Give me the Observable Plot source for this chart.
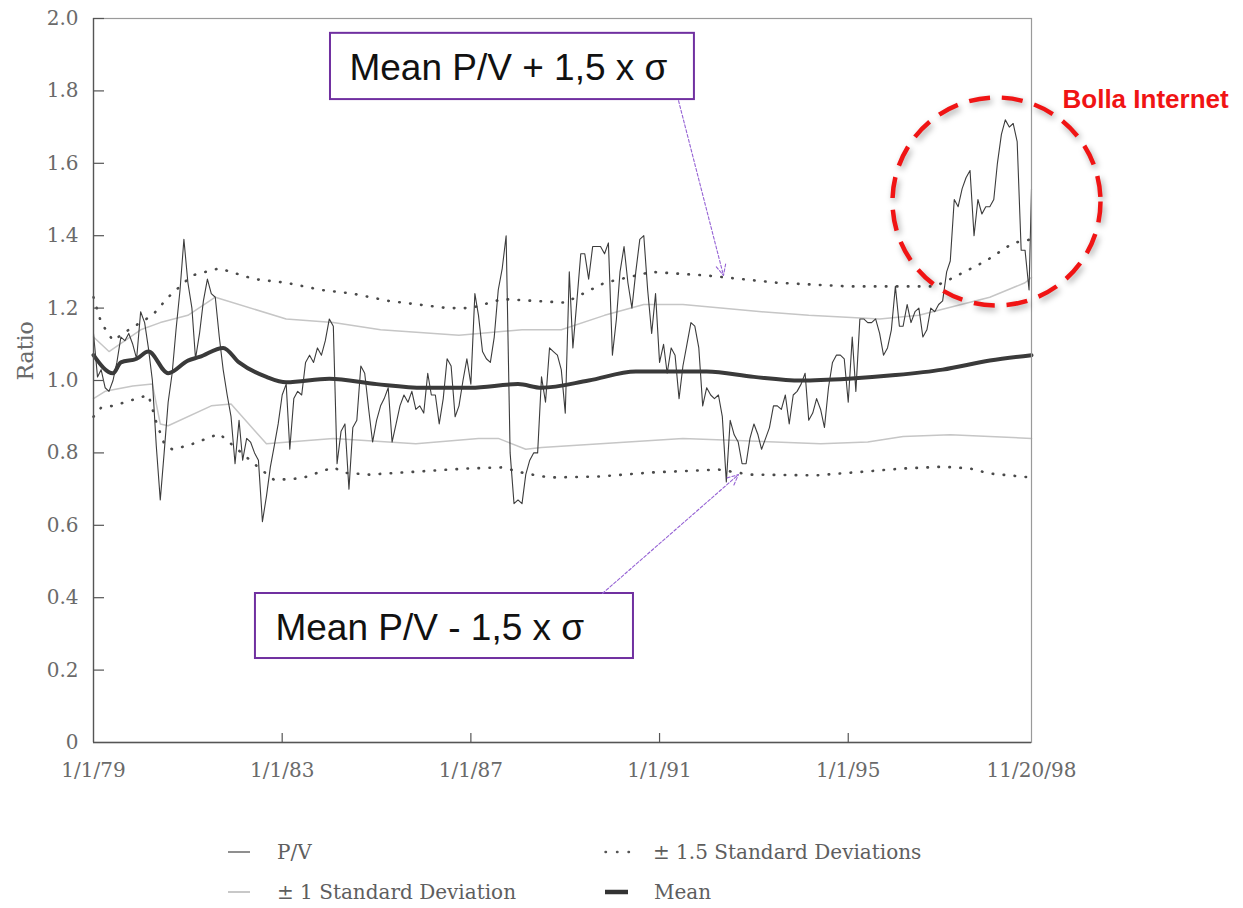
<!DOCTYPE html>
<html>
<head>
<meta charset="utf-8">
<script src="https://cdn.jsdelivr.net/npm/d3@7"></script>
<script src="https://cdn.jsdelivr.net/npm/@observablehq/plot@0.6"></script>
<style>
  body { margin: 0; background: #fff; }
  #chart { position: relative; width: 1243px; height: 908px; overflow: hidden; }
  #chart > svg { position: absolute; left: 0; top: 0; }
  .legend-item { position: absolute; display: flex; align-items: center; height: 26px; line-height: 26px;
    font-family: "DejaVu Serif", serif; font-size: 20px; color: #5e5e5e; white-space: nowrap; }
  .legend-item svg { display: block; margin-right: 21px; flex: none; }
</style>
</head>
<body>
<div id="chart"></div>
<script>
// Monthly P/V ratio, Jan 1979 onwards (one row per year), plus the last reading on 11/20/98
const pvStart = "1979-01-01";
const pv = [
  1.13, 1.01, 1.03, 0.98, 0.97, 1.00, 1.05, 1.12, 1.11, 1.13, 1.10, 1.06,
  1.19, 1.16, 1.09, 1.00, 0.82, 0.67, 0.80, 0.94, 1.02, 1.14, 1.25, 1.39,
  1.27, 1.20, 1.06, 1.13, 1.22, 1.28, 1.24, 1.23, 1.12, 1.03, 0.96, 0.90,
  0.77, 0.89, 0.78, 0.84, 0.83, 0.80, 0.78, 0.61, 0.68, 0.76, 0.82, 0.88,
  0.96, 0.99, 0.81, 0.95, 0.97, 0.96, 1.05, 1.07, 1.05, 1.09, 1.07, 1.11,
  1.17, 1.15, 0.77, 0.86, 0.88, 0.70, 0.87, 0.89, 1.04, 1.02, 0.92, 0.83,
  0.89, 0.93, 0.95, 0.98, 0.83, 0.88, 0.93, 0.96, 0.94, 0.97, 0.92, 0.93,
  0.91, 1.02, 0.96, 0.96, 0.88, 0.95, 1.06, 1.04, 0.90, 0.93, 1.00, 1.06,
  0.99, 1.24, 1.18, 1.08, 1.06, 1.05, 1.12, 1.25, 1.31, 1.40, 0.80, 0.66,
  0.67, 0.66, 0.74, 0.78, 0.80, 0.80, 1.01, 0.94, 1.09, 1.08, 1.07, 1.03,
  0.91, 1.30, 1.09, 1.22, 1.35, 1.35, 1.28, 1.37, 1.37, 1.37, 1.35, 1.38,
  1.07, 1.17, 1.30, 1.37, 1.27, 1.20, 1.30, 1.39, 1.40, 1.25, 1.13, 1.24,
  1.05, 1.10, 1.02, 1.09, 1.07, 0.95, 1.04, 1.10, 1.16, 1.15, 1.09, 0.93,
  0.98, 0.96, 0.95, 0.96, 0.90, 0.72, 0.89, 0.85, 0.83, 0.77, 0.77, 0.84,
  0.88, 0.85, 0.81, 0.84, 0.87, 0.93, 0.93, 0.92, 0.96, 0.88, 0.96, 0.97,
  0.99, 1.02, 0.89, 0.91, 0.95, 0.92, 0.87, 0.98, 1.05, 1.07, 1.07, 1.06,
  0.94, 1.12, 0.97, 1.17, 1.17, 1.16, 1.16, 1.17, 1.13, 1.07, 1.09, 1.14,
  1.26, 1.15, 1.15, 1.21, 1.16, 1.19, 1.20, 1.12, 1.14, 1.20, 1.19, 1.21,
  1.22, 1.30, 1.33, 1.50, 1.48, 1.53, 1.56, 1.58, 1.40, 1.50, 1.46, 1.48,
  1.48, 1.50, 1.60, 1.68, 1.72, 1.70, 1.71, 1.66, 1.36, 1.36, 1.25
];
const pvLast = ["1998-11-20", 1.53];

// Running mean and standard-deviation bands
const meanLine = [
  ["1979-01", 1.07], ["1979-06", 1.02], ["1979-08", 1.05], ["1979-12", 1.06],
  ["1980-03", 1.08], ["1980-08", 1.02], ["1981-01", 1.055], ["1981-04", 1.065],
  ["1981-10", 1.09], ["1982-02", 1.05], ["1982-09", 1.01], ["1983-02", 0.995],
  ["1984-01", 1.005], ["1985-01", 0.99], ["1986-01", 0.98], ["1987-01", 0.98],
  ["1988-01", 0.99], ["1988-07", 0.98], ["1989-07", 1.00], ["1990-07", 1.025],
  ["1992-01", 1.025], ["1993-01", 1.01], ["1994-01", 1.00], ["1995-01", 1.005],
  ["1996-01", 1.015], ["1997-01", 1.03], ["1998-01", 1.055], ["1998-11-20", 1.07]
];
const upper15 = [
  ["1979-01", 1.23], ["1979-03", 1.16], ["1979-06", 1.11], ["1979-10", 1.14],
  ["1980-04", 1.18], ["1980-08", 1.23], ["1981-02", 1.29], ["1981-09", 1.31],
  ["1982-06", 1.28], ["1983-02", 1.27], ["1983-11", 1.25], ["1984-07", 1.24],
  ["1985-04", 1.22], ["1986-07", 1.20], ["1987-01", 1.20], ["1987-09", 1.225],
  ["1989-01", 1.215], ["1989-11", 1.27], ["1990-11", 1.30], ["1992-01", 1.29],
  ["1993-07", 1.27], ["1995-01", 1.26], ["1996-11", 1.26], ["1997-03", 1.28],
  ["1997-12", 1.33], ["1998-07", 1.38], ["1998-11-20", 1.39]
];
const upper1 = [
  ["1979-01", 1.12], ["1979-05", 1.08], ["1980-01", 1.14], ["1980-06", 1.16],
  ["1981-01", 1.18], ["1981-08", 1.23], ["1983-02", 1.17], ["1984-02", 1.16],
  ["1985-02", 1.14], ["1986-10", 1.125], ["1988-02", 1.14], ["1988-12", 1.14],
  ["1989-11", 1.18], ["1990-09", 1.21], ["1991-07", 1.21], ["1993-03", 1.19],
  ["1994-03", 1.18], ["1995-09", 1.17], ["1996-07", 1.18], ["1998-01", 1.23],
  ["1998-10", 1.27], ["1998-11-20", 1.285]
];
const lower1 = [
  ["1979-01", 0.95], ["1979-04", 0.97], ["1979-11", 0.985], ["1980-04", 0.99],
  ["1980-06", 0.88], ["1980-08", 0.875], ["1981-07", 0.93], ["1981-12", 0.935],
  ["1982-09", 0.825], ["1984-02", 0.84], ["1985-11", 0.825], ["1987-03", 0.84],
  ["1987-08", 0.84], ["1988-03", 0.81], ["1988-07", 0.815], ["1991-07", 0.84],
  ["1994-06", 0.825], ["1995-06", 0.83], ["1996-03", 0.845], ["1997-03", 0.85],
  ["1998-11-20", 0.84]
];
const lower15 = [
  ["1979-01", 0.90], ["1979-03", 0.925], ["1979-06", 0.93], ["1979-09", 0.94],
  ["1979-12", 0.95], ["1980-03", 0.96], ["1980-05", 0.885], ["1980-07", 0.826],
  ["1980-09", 0.81], ["1981-01", 0.82], ["1981-09", 0.853], ["1982-07", 0.76],
  ["1982-11", 0.725], ["1983-06", 0.73], ["1984-02", 0.76], ["1984-05", 0.745],
  ["1984-11", 0.74], ["1986-12", 0.757], ["1987-09", 0.76], ["1988-03", 0.743],
  ["1988-09", 0.732], ["1989-10", 0.735], ["1990-11", 0.746], ["1992-04", 0.754],
  ["1992-12", 0.74], ["1994-05", 0.738], ["1995-06", 0.749], ["1996-03", 0.757],
  ["1997-01", 0.762], ["1997-08", 0.757], ["1998-01", 0.743], ["1998-11-20", 0.732]
];

// Axis ticks
const xTickDates = ["1979-01-01", "1983-01-01", "1987-01-01", "1991-01-01", "1995-01-01", "1998-11-20"];
const xTickLabels = ["1/1/79", "1/1/83", "1/1/87", "1/1/91", "1/1/95", "11/20/98"];
const yTicks = [0, 0.2, 0.4, 0.6, 0.8, 1.0, 1.2, 1.4, 1.6, 1.8, 2.0];

// Callouts
const calloutBoxes = [
  {x1: "1984-01-10", x2: "1991-09-28", y1: 1.776, y2: 1.959, tx: "1984-06-05", ty: 1.829, text: "Mean P/V + 1,5 x σ"},
  {x1: "1982-06-08", x2: "1990-06-13", y1: 0.232, y2: 0.4116, tx: "1982-11-10", ty: 0.282, text: "Mean P/V - 1,5 x σ"}
];
const calloutArrows = [
  {x1: "1991-05-28", y1: 1.773, x2: "1992-05-10", y2: 1.290},
  {x1: "1989-10-16", y1: 0.4116, x2: "1992-09-03", y2: 0.740}
];
const bubble = {x: "1998-02-22", y: 1.4945, label: "Bolla Internet"};

const parseDate = s => new Date(s.length === 7 ? s + "-01" : s);
const toRows = pairs => pairs.map(([d, v]) => ({date: parseDate(d), value: v}));

const pvRows = pv.map((v, i) => ({date: d3.utcMonth.offset(parseDate(pvStart), i), value: v}));
pvRows.push({date: parseDate(pvLast[0]), value: pvLast[1]});

const xTicks = xTickDates.map(parseDate);
const labelByTime = new Map(xTicks.map((d, i) => [+d, xTickLabels[i]]));
const boxes = calloutBoxes.map(b => ({...b, x1: parseDate(b.x1), x2: parseDate(b.x2), tx: parseDate(b.tx)}));
const arrows = calloutArrows.map(a => ({...a, x1: parseDate(a.x1), x2: parseDate(a.x2)}));

const frameW = 1243 - 93 - 212;
const frameH = 800 - 18 - 58;
const serif = "DejaVu Serif, serif";
const sans = "Liberation Sans, Arial, sans-serif";

const chart = Plot.plot({
  width: 1243,
  height: 800,
  marginLeft: 93,
  marginRight: 212,
  marginTop: 18,
  marginBottom: 58,
  style: {background: "white", fontFamily: serif, overflow: "visible"},
  x: {type: "utc", domain: [xTicks[0], xTicks[xTicks.length - 1]]},
  y: {domain: [0, 2]},
  marks: [
    // standard-deviation bands
    Plot.line(toRows(upper1), {x: "date", y: "value", stroke: "#c6c6c6", strokeWidth: 1.5}),
    Plot.line(toRows(lower1), {x: "date", y: "value", stroke: "#c6c6c6", strokeWidth: 1.5}),
    Plot.line(toRows(upper15), {x: "date", y: "value", stroke: "#4a4a4a", strokeWidth: 2.6,
      strokeDasharray: "0.5 10.5", strokeLinecap: "round"}),
    Plot.line(toRows(lower15), {x: "date", y: "value", stroke: "#4a4a4a", strokeWidth: 2.6,
      strokeDasharray: "0.5 10.5", strokeLinecap: "round"}),
    // mean and ratio
    Plot.line(toRows(meanLine), {x: "date", y: "value", stroke: "#3a3a3a", strokeWidth: 4, curve: "monotone-x"}),
    Plot.line(pvRows, {x: "date", y: "value", stroke: "#3c3c3c", strokeWidth: 1.1}),
    // frame and axes
    Plot.frame({stroke: "#9a9a9a", strokeWidth: 1.2}),
    Plot.ruleX([xTicks[0]], {stroke: "#555", strokeWidth: 1.3}),
    Plot.ruleY([0], {stroke: "#555", strokeWidth: 1.3}),
    Plot.tickY(yTicks.slice(1), {y: d => d, insetRight: frameW - 11, stroke: "#555", strokeWidth: 1.2}),
    Plot.tickX(xTicks.slice(1, -1), {x: d => d, insetTop: frameH - 9, stroke: "#555", strokeWidth: 1.2}),
    Plot.axisY(yTicks, {tickSize: 0, tickPadding: 15, fontSize: 20, fill: "#6a6a6a",
      tickFormat: d => d === 0 ? "0" : d.toFixed(1), label: null}),
    Plot.axisX(xTicks, {tickSize: 0, tickPadding: 20, fontSize: 20, fill: "#6a6a6a",
      tickFormat: d => labelByTime.get(+d), label: null, style: {letterSpacing: "2px"}}),
    Plot.text(["Ratio"], {frameAnchor: "left", dx: -68, rotate: -90, fontSize: 22, fill: "#6a6a6a"}),
    // callouts
    Plot.rect(boxes, {x1: "x1", x2: "x2", y1: "y1", y2: "y2", fill: "white", stroke: "#7030a0", strokeWidth: 2}),
    Plot.text(boxes, {x: "tx", y: "ty", text: "text", textAnchor: "start", lineAnchor: "bottom",
      fontFamily: sans, fontSize: 37, fill: "#111"}),
    Plot.arrow(arrows, {x1: "x1", y1: "y1", x2: "x2", y2: "y2", stroke: "#9562d4", strokeWidth: 1.1,
      strokeDasharray: "3 2", headLength: 16, headAngle: 50}),
    Plot.dot([bubble], {x: d => parseDate(d.x), y: "y", r: 104, fill: "none", stroke: "#f01414",
      strokeWidth: 4.5, strokeDasharray: "21 12", imageFilter: "drop-shadow(2px 3px 3px rgba(0,0,0,0.35))"}),
    Plot.text([bubble], {frameAnchor: "top-right", dx: 31, dy: 89, text: "label", textAnchor: "start",
      lineAnchor: "bottom", fontFamily: sans, fontWeight: "bold", fontSize: 26, fill: "#f01414"})
  ]
});

const root = document.getElementById("chart");
root.appendChild(chart);

// Legend below the plot
const legendItems = [
  {label: "P/V", left: 228, top: 839, swatch: '<line x1="0" y1="13" x2="22" y2="13" stroke="#444" stroke-width="1.2"/>'},
  {label: "± 1.5 Standard Deviations", left: 604, top: 839,
    swatch: '<line x1="1.5" y1="13" x2="27" y2="13" stroke="#555" stroke-width="2.4" stroke-dasharray="0.5 11" stroke-linecap="round"/>'},
  {label: "± 1 Standard Deviation", left: 228, top: 879, swatch: '<line x1="0" y1="13" x2="22" y2="13" stroke="#bbb" stroke-width="1.6"/>'},
  {label: "Mean", left: 605, top: 879, swatch: '<line x1="0" y1="13" x2="23" y2="13" stroke="#333" stroke-width="4.5"/>'}
];
for (const item of legendItems) {
  const div = document.createElement("div");
  div.className = "legend-item";
  div.style.left = item.left + "px";
  div.style.top = item.top + "px";
  div.innerHTML = `<svg width="28" height="26">${item.swatch}</svg><span>${item.label}</span>`;
  root.appendChild(div);
}
</script>
</body>
</html>
